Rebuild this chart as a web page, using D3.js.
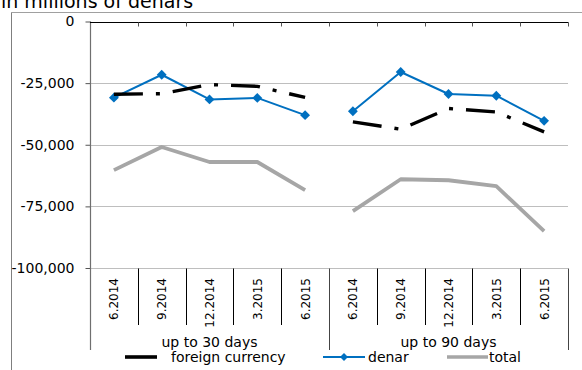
<!DOCTYPE html>
<html>
<head>
<meta charset="utf-8">
<script src="https://cdn.jsdelivr.net/npm/d3@7"></script>
<style>
  html, body { margin: 0; padding: 0; background: #fff; }
  svg { display: block; font-family: "DejaVu Sans", Verdana, sans-serif; }
</style>
</head>
<body>
<svg id="chart" width="582" height="370"></svg>
<script>
// Maturity groups and quarter labels
const groups = ["up to 30 days", "up to 90 days"];
const quarters = ["6.2014", "9.2014", "12.2014", "3.2015", "6.2015"];

// Values in millions of denars, one array per group
const foreign30 = [-29500, -29300, -25600, -26300, -30800];
const foreign90 = [-40700, -43700, -35300, -36700, -44800];
const denar30 = [-30900, -21600, -31600, -31000, -38000];
const denar90 = [-36400, -20500, -29400, -30100, -40300];
const total30 = [-60300, -50900, -57000, -57000, -68400];
const total90 = [-76900, -64000, -64400, -66800, -85000];

const yTicks = [0, -25000, -50000, -75000, -100000];

const series = [
  { name: "foreign currency", color: "#000000", width: 3.4, dash: "29,13,4,13", values: [foreign30, foreign90] },
  { name: "denar", color: "#0070C0", width: 2, dash: null, marker: true, values: [denar30, denar90] },
  { name: "total", color: "#A6A6A6", width: 3.8, dash: null, values: [total30, total90] }
];

const svg = d3.select("#chart");

const plotL = 90, plotR = 568, plotT = 21.5, plotB = 268;

const keys = [];
groups.forEach((g, gi) => quarters.forEach(q => keys.push(gi + "|" + q)));

const x = d3.scaleBand().domain(keys).range([plotL, plotR]).paddingInner(0).paddingOuter(0);
const y = d3.scaleLinear().domain([0, -100000]).range([plotT, plotB]);

const fmt = v => (v < 0 ? "-" : "") + d3.format(",")(Math.abs(v));

// Outer frame (left and top edges)
svg.append("line").attr("x1", 11.5).attr("x2", 11.5).attr("y1", 12).attr("y2", 370)
  .attr("stroke", "#7f7f7f").attr("stroke-width", 1);
svg.append("line").attr("x1", 11).attr("x2", 582).attr("y1", 12.5).attr("y2", 12.5)
  .attr("stroke", "#a0a0a0").attr("stroke-width", 1);

// Title
svg.append("text").attr("x", 1).attr("y", 8).attr("font-size", 19).attr("fill", "#000")
  .text("in millions of denars");

// Horizontal gridlines
svg.append("g").selectAll("line").data(yTicks.filter(d => d !== 0)).join("line")
  .attr("x1", plotL).attr("x2", plotR)
  .attr("y1", d => Math.round(y(d)) + 0.5).attr("y2", d => Math.round(y(d)) + 0.5)
  .attr("stroke", "#BEBEBE").attr("stroke-width", 1);

// Y axis
const yAxis = svg.append("g").attr("transform", `translate(${plotL + 0.5},0)`)
  .call(d3.axisLeft(y).tickValues(yTicks).tickFormat(fmt).tickSize(5).tickPadding(11));
yAxis.select(".domain").remove();
yAxis.selectAll(".tick line").attr("stroke", "#555");
yAxis.selectAll(".tick text").attr("font-size", 14).attr("fill", "#000")
  .attr("font-family", "DejaVu Sans, Verdana, sans-serif");
svg.append("line").attr("x1", plotL + 0.5).attr("x2", plotL + 0.5).attr("y1", plotT).attr("y2", 350)
  .attr("stroke", "#6f6f6f").attr("stroke-width", 1.2);

// Zero line with downward ticks at category boundaries
const zeroY = Math.round(y(0)) + 0.5;
svg.append("line").attr("x1", plotL).attr("x2", plotR + 0.5).attr("y1", zeroY).attr("y2", zeroY)
  .attr("stroke", "#000").attr("stroke-width", 1);
const boundaries = keys.map(k => x(k) + x.bandwidth()).map(v => Math.round(v) + 0.5);
svg.append("g").selectAll("line").data(boundaries).join("line")
  .attr("x1", d => d).attr("x2", d => d).attr("y1", zeroY).attr("y2", zeroY + 4)
  .attr("stroke", "#555").attr("stroke-width", 1);

// Category axis: separators below the plot
const bottomY = Math.round(y(-100000)) + 0.5;
svg.append("g").selectAll("line").data(boundaries).join("line")
  .attr("x1", d => d).attr("x2", d => d).attr("y1", bottomY)
  .attr("y2", (d, i) => (i === 4 || i === 9) ? 350 : 325)
  .attr("stroke", (d, i) => (i === 4 || i === 9) ? "#444" : "#000").attr("stroke-width", 1);

// Rotated quarter labels
svg.append("g").selectAll("text").data(keys).join("text")
  .attr("transform", d => `translate(${x(d) + x.bandwidth() / 2 + 4.5},278) rotate(-90)`)
  .attr("text-anchor", "end").attr("font-size", 12).attr("fill", "#000")
  .text(d => d.split("|")[1]);

// Group labels
svg.append("g").selectAll("text").data(groups).join("text")
  .attr("x", (g, gi) => (x(gi + "|" + quarters[0]) + x(gi + "|" + quarters[4]) + x.bandwidth()) / 2)
  .attr("y", 347).attr("text-anchor", "middle").attr("font-size", 14).attr("fill", "#000")
  .text(d => d);

// Series lines, broken between the two groups
const line = d3.line().x(d => d.x).y(d => d.y);
series.slice().reverse().forEach(s => {
  s.values.forEach((vals, gi) => {
    const pts = vals.map((v, i) => ({ x: x(gi + "|" + quarters[i]) + x.bandwidth() / 2, y: y(v) }));
    svg.append("path").datum(pts).attr("d", line)
      .attr("fill", "none").attr("stroke", s.color).attr("stroke-width", s.width)
      .attr("stroke-dasharray", s.dash).attr("stroke-linejoin", "round");
    if (s.marker) {
      svg.append("g").selectAll("path").data(pts).join("path")
        .attr("d", d3.symbol(d3.symbolDiamond2, 62)())
        .attr("transform", d => `translate(${d.x},${d.y})`)
        .attr("fill", s.color);
    }
  });
});

// Legend
const legend = [
  { s: series[0], x1: 125, x2: 157, tx: 171 },
  { s: series[1], x1: 323, x2: 365, tx: 368 },
  { s: series[2], x1: 447, x2: 488, tx: 489 }
];
const lg = svg.append("g");
legend.forEach(l => {
  lg.append("line").attr("x1", l.x1).attr("x2", l.x2).attr("y1", 357).attr("y2", 357)
    .attr("stroke", l.s.color).attr("stroke-width", l.s.name === "denar" ? 2 : 3.6);
  if (l.s.marker) {
    lg.append("path").attr("d", d3.symbol(d3.symbolDiamond2, 40)())
      .attr("transform", `translate(${(l.x1 + l.x2) / 2},357)`).attr("fill", l.s.color);
  }
  lg.append("text").attr("x", l.tx).attr("y", 362).attr("font-size", 14).attr("fill", "#000")
    .text(l.s.name);
});
</script>
</body>
</html>
